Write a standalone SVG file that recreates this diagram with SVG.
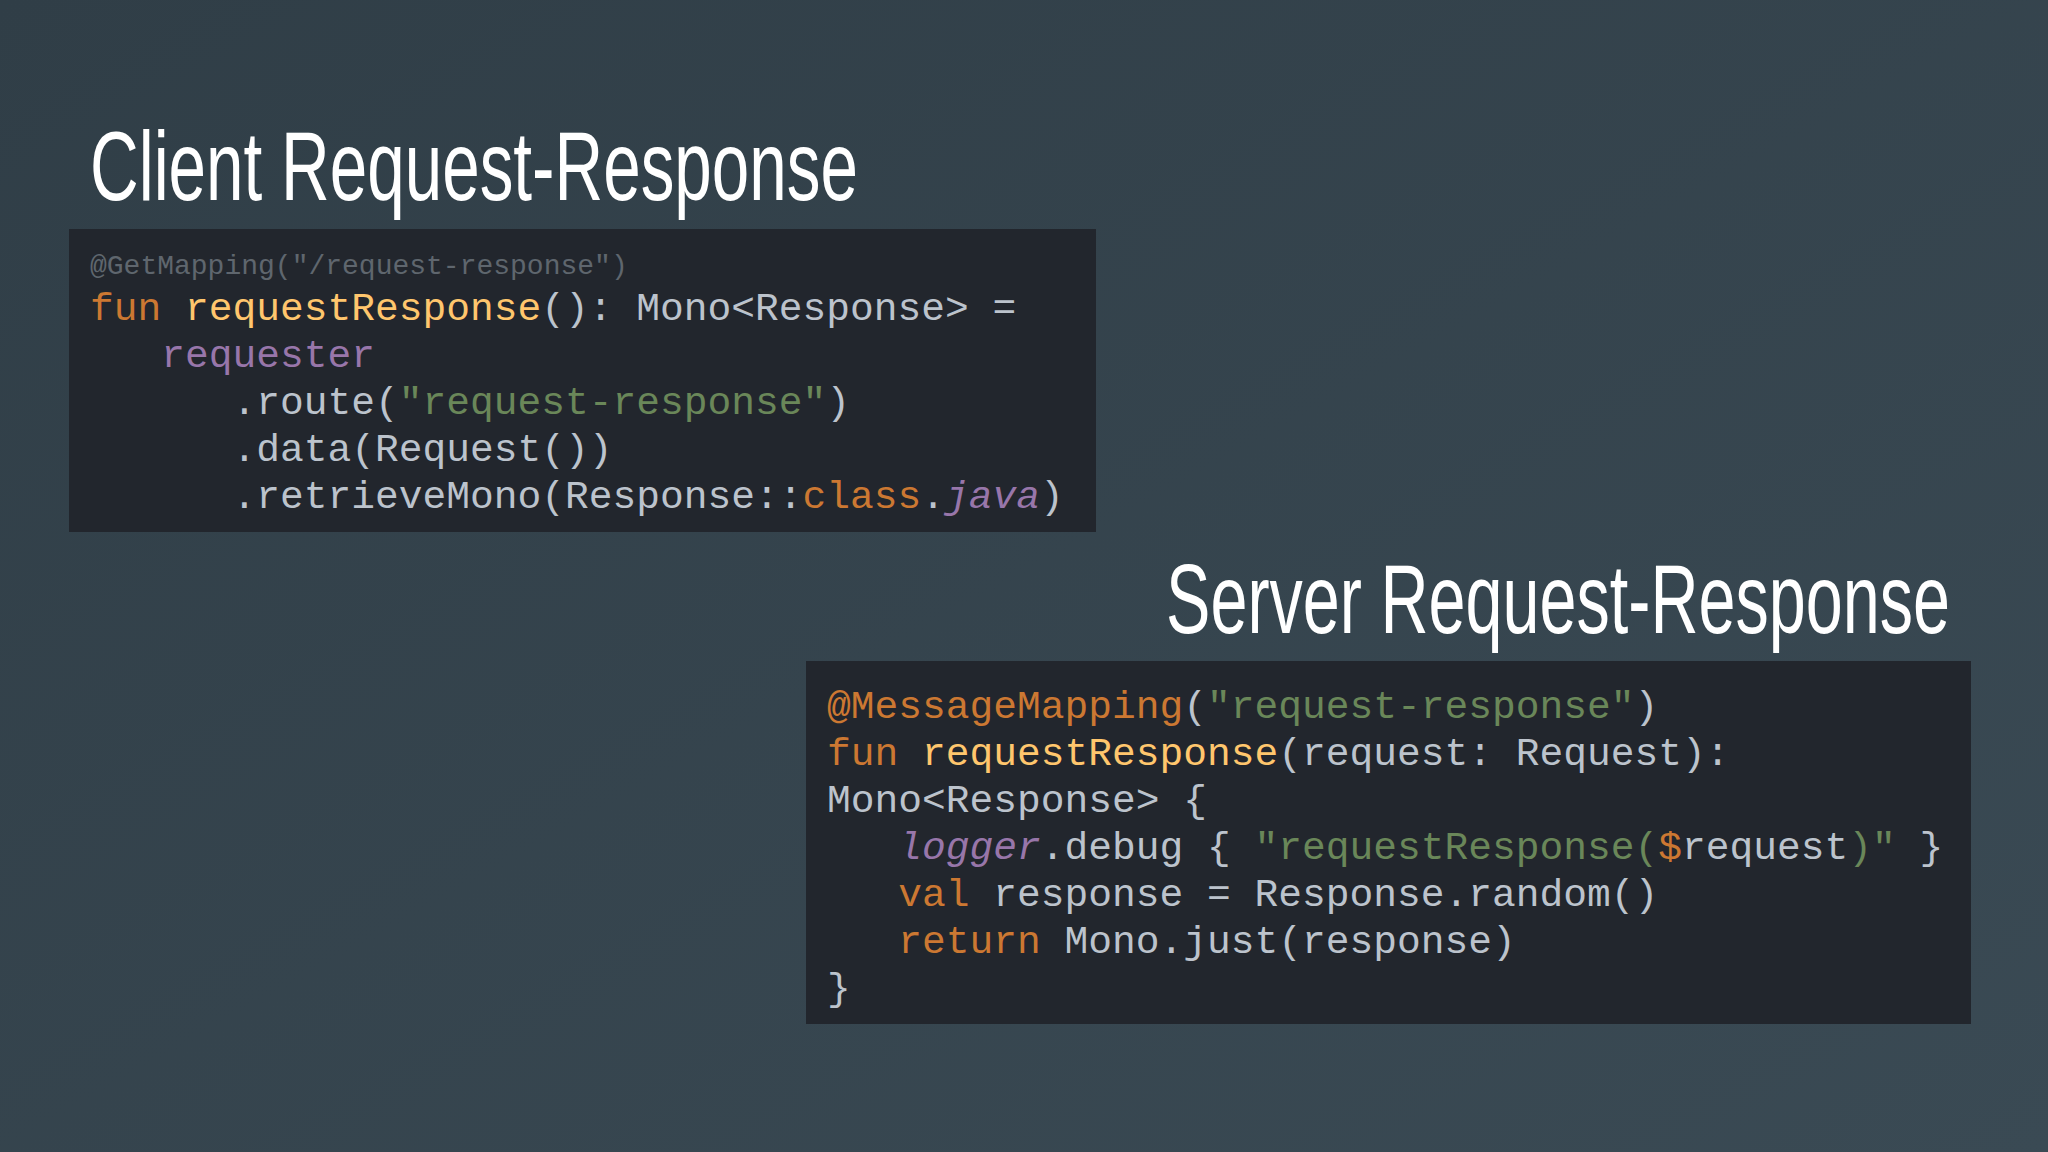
<svg xmlns="http://www.w3.org/2000/svg" width="2048" height="1152" viewBox="0 0 2048 1152">
<defs>
<linearGradient id="bg" x1="0" y1="0" x2="1" y2="1"><stop offset="0" stop-color="#303e47"/><stop offset="1" stop-color="#3a4a54"/></linearGradient>
</defs>
<style>
.code{font-family:"Liberation Mono","DejaVu Sans Mono",monospace;font-size:39.6px;fill:#bcc3cc;white-space:pre}
.small{font-size:28px;fill:#5f666e}
.k{fill:#cc7832}.f{fill:#ffc66d}.s{fill:#6a8759}.p{fill:#9876aa}.i{font-style:italic}
.title{font-family:"Liberation Sans",Arial,sans-serif;font-size:98px;fill:#ffffff}
.box{fill:#22262d}
</style>
<rect width="2048" height="1152" fill="url(#bg)"/>
<g id="client">
<text class="title" x="90" y="200" textLength="768" lengthAdjust="spacingAndGlyphs">Client Request-Response</text>
<rect class="box" x="69" y="229" width="1027" height="303"/>
<text class="code small" x="90" y="274" xml:space="preserve">@GetMapping("/request-response")</text>
<text class="code" x="90" y="320" xml:space="preserve"><tspan class="k">fun</tspan> <tspan class="f">requestResponse</tspan>(): Mono&lt;Response&gt; =</text>
<text class="code" x="90" y="367" xml:space="preserve">   <tspan class="p">requester</tspan></text>
<text class="code" x="90" y="414" xml:space="preserve">      .route(<tspan class="s">"request-response"</tspan>)</text>
<text class="code" x="90" y="461" xml:space="preserve">      .data(Request())</text>
<text class="code" x="90" y="508" xml:space="preserve">      .retrieveMono(Response::<tspan class="k">class</tspan>.<tspan class="p i">java</tspan>)</text>
</g>
<g id="server">
<text class="title" x="1166" y="633" textLength="784" lengthAdjust="spacingAndGlyphs">Server Request-Response</text>
<rect class="box" x="806" y="661" width="1165" height="363"/>
<text class="code" x="827" y="718" xml:space="preserve"><tspan class="k">@MessageMapping</tspan>(<tspan class="s">"request-response"</tspan>)</text>
<text class="code" x="827" y="765" xml:space="preserve"><tspan class="k">fun</tspan> <tspan class="f">requestResponse</tspan>(request: Request):</text>
<text class="code" x="827" y="812" xml:space="preserve">Mono&lt;Response&gt; {</text>
<text class="code" x="827" y="859" xml:space="preserve">   <tspan class="p i">logger</tspan>.debug { <tspan class="s">"requestResponse(</tspan><tspan class="k">$</tspan>request<tspan class="s">)"</tspan> }</text>
<text class="code" x="827" y="906" xml:space="preserve">   <tspan class="k">val</tspan> response = Response.random()</text>
<text class="code" x="827" y="953" xml:space="preserve">   <tspan class="k">return</tspan> Mono.just(response)</text>
<text class="code" x="827" y="1000" xml:space="preserve">}</text>
</g>
<g id="connectors"/>
</svg>
